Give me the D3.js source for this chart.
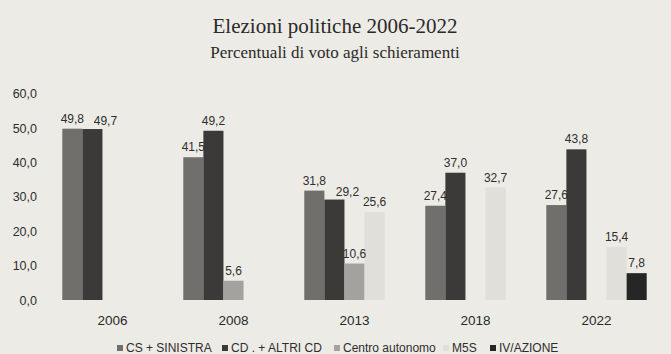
<!DOCTYPE html>
<html>
<head>
<meta charset="utf-8">
<script src="https://cdn.jsdelivr.net/npm/d3@7"></script>
<style>
  html, body { margin: 0; padding: 0; background: #edebe5; }
  svg { display: block; }
</style>
</head>
<body>
<svg width="671" height="354"></svg>
<script>
// data
const years = ['2006', '2008', '2013', '2018', '2022']
const seriesNames = ['CS + SINISTRA', 'CD . + ALTRI CD', 'Centro autonomo', 'M5S', 'IV/AZIONE']
const csSinistra = [49.8, 41.5, 31.8, 27.4, 27.6]
const cdAltri = [49.7, 49.2, 29.2, 37.0, 43.8]
const centroAutonomo = [null, 5.6, 10.6, null, null]
const m5s = [null, null, 25.6, 32.7, 15.4]
const ivAzione = [null, null, null, null, 7.8]
const yTicks = [0, 10, 20, 30, 40, 50, 60]

const seriesValues = [csSinistra, cdAltri, centroAutonomo, m5s, ivAzione]
const colors = ['#706f6c', '#3b3a39', '#a3a29e', '#e0dfda', '#262626']

const fmt = v => d3.format('.1f')(v).replace('.', ',')

const svg = d3.select('svg')
const sans = 'Liberation Sans, Arial, sans-serif'
const serif = 'Liberation Serif, serif'

// titles
svg.append('text')
    .attr('x', 335).attr('y', 33)
    .attr('text-anchor', 'middle')
    .attr('font-family', serif)
    .attr('font-size', 21)
    .attr('fill', '#2a2a2a')
    .text('Elezioni politiche 2006-2022')

svg.append('text')
    .attr('x', 335).attr('y', 58)
    .attr('text-anchor', 'middle')
    .attr('font-family', serif)
    .attr('font-size', 17)
    .attr('fill', '#2a2a2a')
    .text('Percentuali di voto agli schieramenti')

// scales
const y = d3.scaleLinear().domain([0, 60]).range([300, 93.6])
const x0 = d3.scaleBand().domain(years).range([52, 657]).paddingInner(0.17).paddingOuter(0.085)
const x1 = d3.scaleBand().domain(seriesNames).range([0, x0.bandwidth()])

// y axis labels
const yAxis = svg.append('g')
    .attr('transform', 'translate(37,0)')
    .call(d3.axisLeft(y).tickValues(yTicks).tickFormat(fmt).tickSize(0).tickPadding(0))
yAxis.select('.domain').remove()
yAxis.selectAll('text')
    .attr('font-family', sans)
    .attr('font-size', 12.5)
    .attr('fill', '#2e2e2e')

// bars
const rows = []
years.forEach((yr, i) => {
  seriesNames.forEach((s, j) => {
    const v = seriesValues[j][i]
    if (v != null) rows.push({ year: yr, series: s, value: v, color: colors[j] })
  })
})

const g = svg.append('g')
g.selectAll('rect')
  .data(rows)
  .join('rect')
    .attr('x', d => x0(d.year) + x1(d.series))
    .attr('y', d => y(d.value))
    .attr('width', x1.bandwidth())
    .attr('height', d => y(0) - y(d.value))
    .attr('fill', d => d.color)

const labels = g.selectAll('text')
  .data(rows)
  .join('text')
    .attr('x', d => x0(d.year) + x1(d.series) + x1.bandwidth() / 2)
    .attr('y', d => y(d.value) - 6)
    .attr('text-anchor', 'middle')
    .attr('font-family', sans)
    .attr('font-size', 12)
    .attr('fill', '#2e2e2e')
    .text(d => fmt(d.value))

// nudge a label to the right when it collides with the previous one
let prev = null
labels.each(function(d) {
  const b = this.getBBox()
  if (prev && prev.year === d.year && b.x < prev.box.x + prev.box.width &&
      Math.abs(b.y - prev.box.y) < b.height) {
    d3.select(this).attr('dx', 13).attr('dy', 2)
  }
  prev = { year: d.year, box: b }
})

// x axis labels
const xAxis = svg.append('g')
    .attr('transform', 'translate(0,325)')
    .call(d3.axisBottom(x0).tickSize(0).tickPadding(0))
xAxis.select('.domain').remove()
xAxis.selectAll('text')
    .attr('dy', 0)
    .attr('font-family', sans)
    .attr('font-size', 13.5)
    .attr('fill', '#2a2a2a')

// legend
const legendX = [117, 222, 334, 443, 490]
const legend = svg.append('g').attr('transform', 'translate(0,352)')
const items = legend.selectAll('g')
  .data(seriesNames)
  .join('g')
    .attr('transform', (d, i) => `translate(${legendX[i]},0)`)
items.append('rect')
    .attr('x', 0).attr('y', -7)
    .attr('width', 6).attr('height', 6)
    .attr('fill', (d, i) => colors[i])
items.append('text')
    .attr('x', 9).attr('y', 0)
    .attr('font-family', sans)
    .attr('font-size', 12)
    .attr('fill', '#2e2e2e')
    .text(d => d)
</script>
</body>
</html>
